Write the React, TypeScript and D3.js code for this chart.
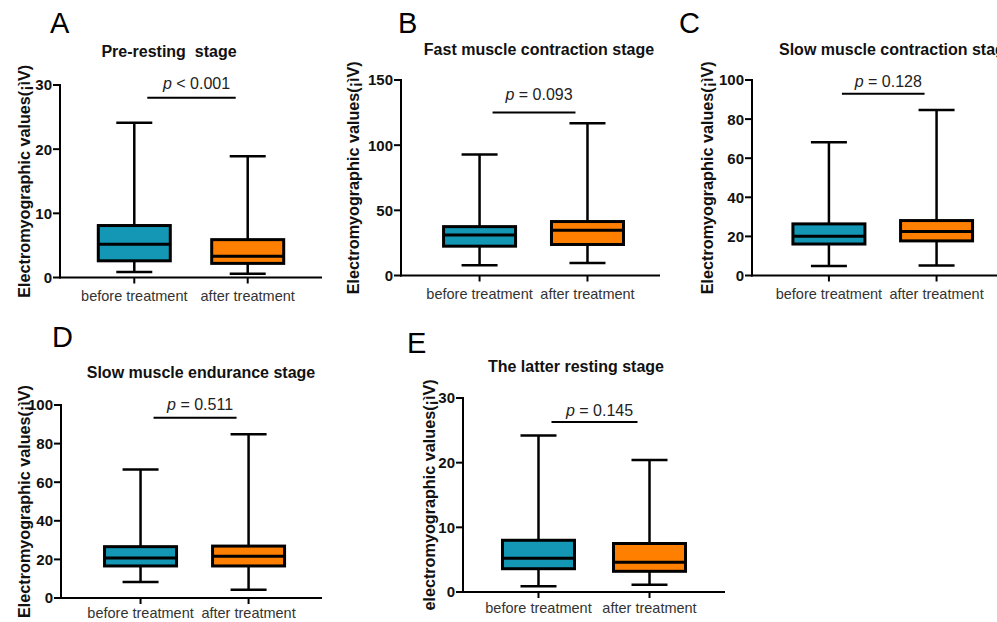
import React from "react";
import * as d3 from "d3";

const categories = ["before treatment", "after treatment"];
const letters = ["A", "B", "C", "D", "E"];
const titles = [
  "Pre-resting  stage",
  "Fast muscle contraction stage",
  "Slow muscle contraction stage",
  "Slow muscle endurance stage",
  "The latter resting stage",
];
const yLabels = [
  "Electromyographic values(¡ìV)",
  "Electromyographic values(¡ìV)",
  "Electromyographic values(¡ìV)",
  "Electromyographic values(¡ìV)",
  "electromyographic values(¡ìV)",
];
const yMax = [30, 150, 100, 100, 30];
const yTicks = [
  [0, 10, 20, 30],
  [0, 50, 100, 150],
  [0, 20, 40, 60, 80, 100],
  [0, 20, 40, 60, 80, 100],
  [0, 10, 20, 30],
];
const pOperators = ["<", "=", "=", "=", "="];
const pValues = ["0.001", "0.093", "0.128", "0.511", "0.145"];
const bracketLevel = [28, 125, 93, 93.4, 26.3];
// five-number summaries: [min, q1, median, q3, max]
const beforeStats = [
  [0.85, 2.6, 5.2, 8.1, 24.1],
  [7.8, 22.5, 31, 37.5, 92.8],
  [4.8, 16.1, 20.1, 26.4, 68.1],
  [8.3, 16.6, 20.7, 26.6, 66.6],
  [0.88, 3.6, 5.2, 8.0, 24.2],
];
const afterStats = [
  [0.6, 2.2, 3.3, 5.9, 18.9],
  [9.6, 23.8, 34.7, 41.4, 116.9],
  [5.1, 17.7, 22.5, 28.1, 84.6],
  [4.3, 16.6, 21.6, 26.9, 84.8],
  [1.13, 3.2, 4.6, 7.5, 20.4],
];
const seriesColors = ["#1497b4", "#ff8000"];

const layout = [
  { ax: 60, x1: 322, yTop: 85, yBot: 277.5, pad: 0.655, align: 0.5, letterX: 50, letterY: 33, titleX: 169, titleY: 57, anchor: "middle", labelX: 30, pTextY: 89, catDy: 23 },
  { ax: 401, x1: 660, yTop: 80, yBot: 275.5, pad: 0.7, align: 0.52, letterX: 398, letterY: 33, titleX: 539, titleY: 55, anchor: "middle", labelX: 359, pTextY: 100, catDy: 23 },
  { ax: 752, x1: 997, yTop: 80, yBot: 275.5, pad: 0.638, align: 0.56, letterX: 679, letterY: 33, titleX: 779, titleY: 55, anchor: "start", labelX: 713, pTextY: 87, catDy: 23 },
  { ax: 61, x1: 322, yTop: 405, yBot: 598, pad: 0.708, align: 0.52, letterX: 52, letterY: 347, titleX: 201, titleY: 378, anchor: "middle", labelX: 30, pTextY: 410, catDy: 20 },
  { ax: 463, x1: 725, yTop: 398, yBot: 592, pad: 0.68, align: 0.5, letterX: 407, letterY: 353, titleX: 576, titleY: 372, anchor: "middle", labelX: 435, pTextY: 416, catDy: 21 },
];

const FONT = "'Liberation Sans', Arial, Helvetica, sans-serif";
const BOX_W = 72;
const CAP_W = 36;

function Panel({ i }: { i: number }) {
  const L = layout[i];
  const y = d3.scaleLinear().domain([0, yMax[i]]).range([L.yBot, L.yTop]);
  const x = d3
    .scalePoint<string>()
    .domain(categories)
    .range([L.ax, L.x1])
    .padding(L.pad)
    .align(L.align);
  const stats = [beforeStats[i], afterStats[i]];
  const bx1 = (x(categories[0]) as number) + 13;
  const bx2 = (x(categories[1]) as number) - 12;
  const by = y(bracketLevel[i]);
  return (
    <g>
      <text x={L.letterX} y={L.letterY} fontSize={29} fontFamily={FONT} fill="#000">
        {letters[i]}
      </text>
      <text
        x={L.titleX}
        y={L.titleY}
        fontSize={16}
        fontWeight="bold"
        fontFamily={FONT}
        textAnchor={L.anchor}
        fill="#111"
        style={{ whiteSpace: "pre" }}
      >
        {titles[i]}
      </text>
      <text
        transform={`translate(${L.labelX},${(L.yTop + L.yBot) / 2}) rotate(-90)`}
        fontSize={16.2}
        fontWeight="bold"
        fontFamily={FONT}
        textAnchor="middle"
        fill="#111"
      >
        {yLabels[i]}
      </text>
      {/* y axis */}
      <line x1={L.ax} x2={L.ax} y1={y(yMax[i]) - 1} y2={L.yBot + 1} stroke="#000" strokeWidth={2} />
      {yTicks[i].map((t) => (
        <g key={t}>
          <line x1={L.ax - 7} x2={L.ax} y1={y(t)} y2={y(t)} stroke="#000" strokeWidth={2} />
          <text x={L.ax - 8} y={y(t)} dy="0.36em" textAnchor="end" fontSize={15} fontWeight="bold" fontFamily={FONT} fill="#111">
            {t}
          </text>
        </g>
      ))}
      {/* x axis */}
      <line x1={L.ax - 1} x2={L.x1} y1={L.yBot} y2={L.yBot} stroke="#000" strokeWidth={2} />
      {categories.map((c) => (
        <g key={c}>
          <line x1={x(c)} x2={x(c)} y1={L.yBot} y2={L.yBot + 6} stroke="#000" strokeWidth={2} />
          <text x={x(c)} y={L.yBot + L.catDy} textAnchor="middle" fontSize={14.5} fontFamily={FONT} fill="#333">
            {c}
          </text>
        </g>
      ))}
      {/* boxes */}
      {categories.map((c, k) => {
        const cx = x(c) as number;
        const [mn, q1, md, q3, mx] = stats[k];
        return (
          <g key={c}>
            <line x1={cx} x2={cx} y1={y(mx)} y2={y(q3)} stroke="#000" strokeWidth={2.5} />
            <line x1={cx} x2={cx} y1={y(q1)} y2={y(mn)} stroke="#000" strokeWidth={2.5} />
            <line x1={cx - CAP_W / 2} x2={cx + CAP_W / 2} y1={y(mx)} y2={y(mx)} stroke="#000" strokeWidth={2.5} />
            <line x1={cx - CAP_W / 2} x2={cx + CAP_W / 2} y1={y(mn)} y2={y(mn)} stroke="#000" strokeWidth={2.5} />
            <rect
              x={cx - BOX_W / 2}
              y={y(q3)}
              width={BOX_W}
              height={y(q1) - y(q3)}
              fill={seriesColors[k]}
              stroke="#000"
              strokeWidth={3}
            />
            <line x1={cx - BOX_W / 2} x2={cx + BOX_W / 2} y1={y(md)} y2={y(md)} stroke="#000" strokeWidth={3} />
          </g>
        );
      })}
      {/* significance bracket */}
      <line x1={bx1} x2={bx2} y1={by} y2={by} stroke="#000" strokeWidth={2} />
      <text x={(bx1 + bx2) / 2 + 5} y={L.pTextY} textAnchor="middle" fontSize={16} fontFamily={FONT} fill="#222">
        <tspan fontStyle="italic">p</tspan>
        {` ${pOperators[i]} ${pValues[i]}`}
      </text>
    </g>
  );
}

export default function App() {
  return (
    <div style={{ position: "absolute", left: 0, top: 0 }}>
      <svg width={997} height={622} style={{ display: "block", background: "#fff" }}>
        {letters.map((_, i) => (
          <Panel key={i} i={i} />
        ))}
      </svg>
    </div>
  );
}
